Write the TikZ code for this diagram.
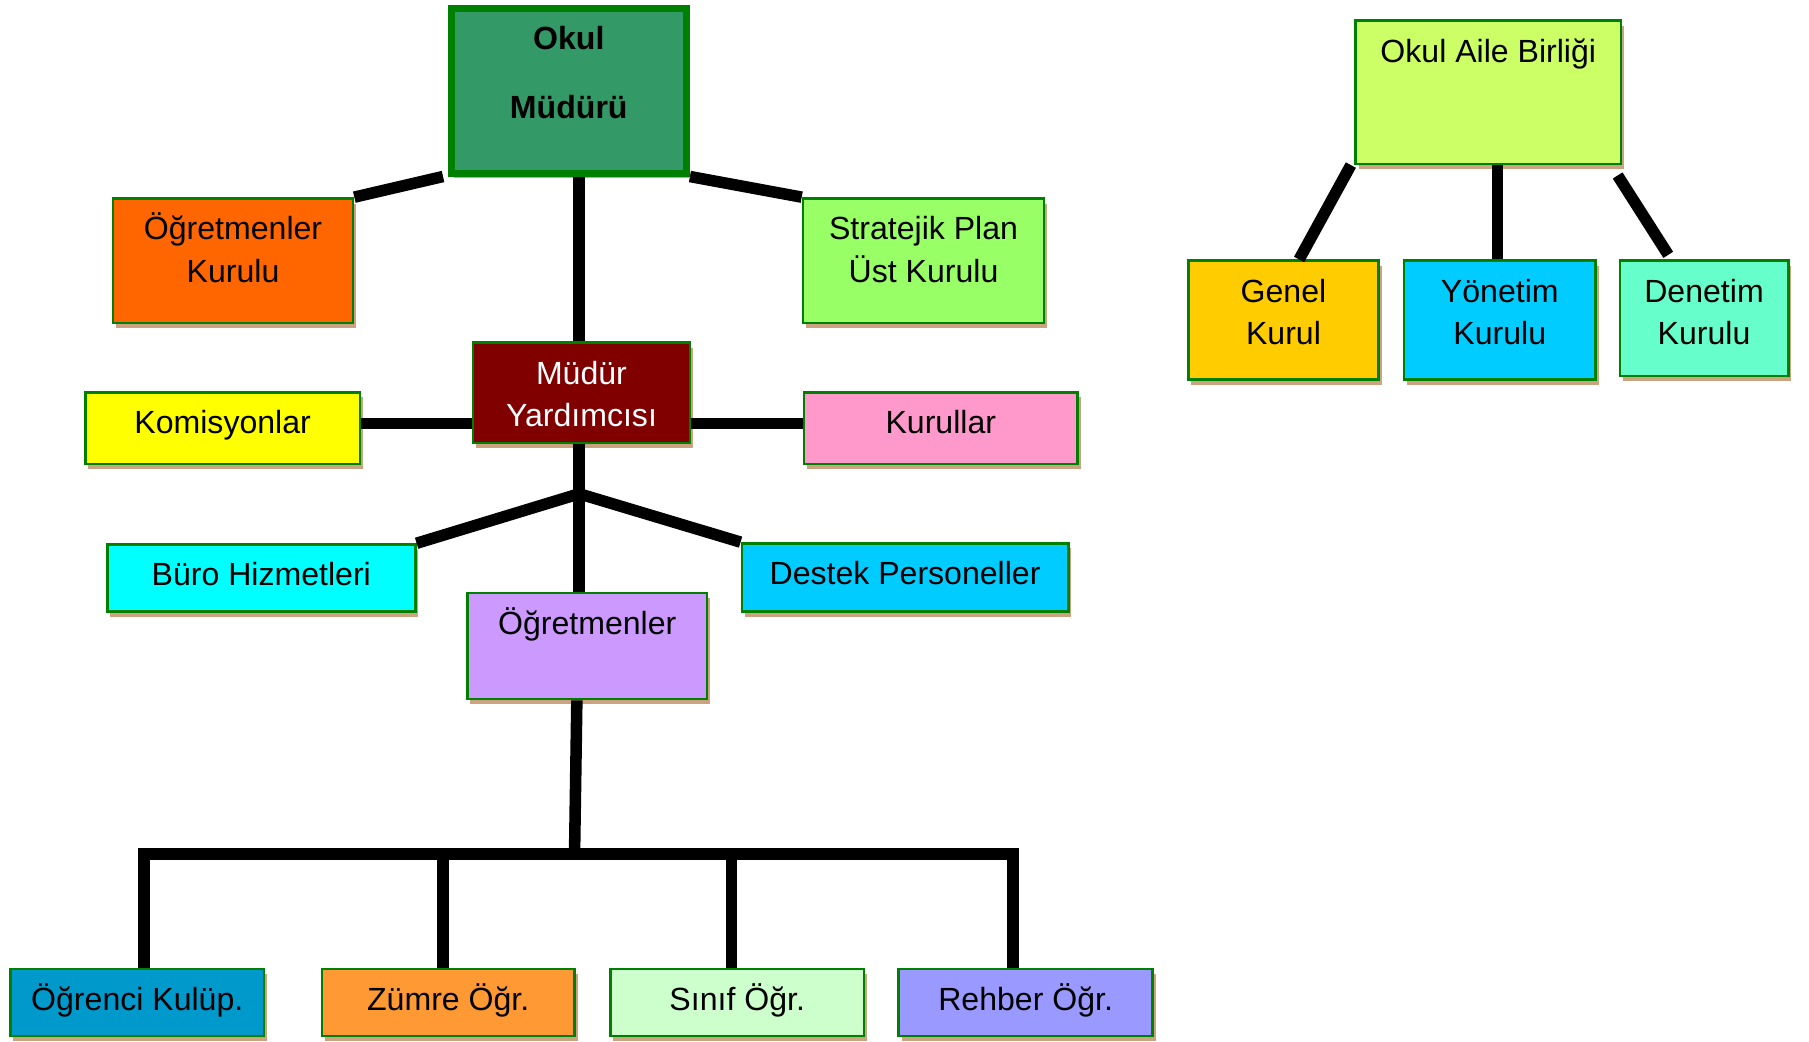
\documentclass[tikz,border=0pt]{standalone}
\usepackage{fontspec}
\setmainfont{Liberation Sans}
\usetikzlibrary{shadows}
\definecolor{bordergreen}{HTML}{008000}
\definecolor{shadowc}{RGB}{204,163,128}
\definecolor{omc}{HTML}{339966}
\definecolor{ogkc}{HTML}{FF6600}
\definecolor{spkc}{HTML}{99FF66}
\definecolor{myc}{HTML}{800000}
\definecolor{komc}{HTML}{FFFF00}
\definecolor{kurc}{HTML}{FF99CC}
\definecolor{buroc}{HTML}{00FFFF}
\definecolor{destekc}{HTML}{00CCFF}
\definecolor{ogrc}{HTML}{CC99FF}
\definecolor{kulupc}{HTML}{0099CC}
\definecolor{zumrec}{HTML}{FF9933}
\definecolor{sinifc}{HTML}{CCFFCC}
\definecolor{rehberc}{HTML}{9999FF}
\definecolor{oabc}{HTML}{CCFF66}
\definecolor{genelc}{HTML}{FFCC00}
\definecolor{yonc}{HTML}{00CCFF}
\definecolor{denc}{HTML}{66FFCC}
\newcommand\bt[3]{\parbox[c][#2][t]{#1}{\centering\vspace*{5pt}\strut #3}}
\begin{document}
\begin{tikzpicture}[x=0.5pt,y=-0.5pt,
  box/.style={draw=bordergreen, line width=1.1pt, inner sep=0pt,
    font=\fontsize{13.9}{18.5}\selectfont,
    drop shadow={shadow xshift=1.3pt, shadow yshift=-2.2pt, fill=shadowc, opacity=1}},
  conn/.style={line width=5pt, black}]
\useasboundingbox (0,0) rectangle (1568,903);

% nodes
\node[box, fill=omc, line width=3pt] (om) at (493,78.5)
  {\bt{102pt}{71.5pt}{\bfseries Okul\\[11.5pt]Müdürü}};
\node[box, fill=ogkc] (ogk) at (202,226) {\bt{104pt}{54pt}{Öğretmenler\\Kurulu}};
\node[box, fill=spkc] (spk) at (800.5,226) {\bt{104.5pt}{54pt}{Stratejik Plan\\Üst Kurulu}};
\node[box, fill=myc, text=white] (my) at (504,340.5) {\bt{94pt}{43.5pt}{Müdür\\Yardımcısı}};
\node[box, fill=komc] (kom) at (193,371) {\bt{119pt}{31pt}{Komisyonlar}};
\node[box, fill=kurc] (kur) at (815.5,371) {\bt{118.5pt}{31pt}{Kurullar}};
\node[box, fill=buroc] (buro) at (226.5,501) {\bt{133.5pt}{29pt}{Büro Hizmetleri}};
\node[box, fill=destekc] (destek) at (784.5,500.5) {\bt{141.5pt}{29.5pt}{Destek Personeller}};
\node[box, fill=ogrc] (ogr) at (509,560) {\bt{104pt}{46pt}{Öğretmenler}};
\node[box, fill=kulupc] (kulup) at (119,869) {\bt{110pt}{29pt}{Öğrenci Kulüp.}};
\node[box, fill=zumrec] (zumre) at (388.5,869) {\bt{109.5pt}{29pt}{Zümre Öğr.}};
\node[box, fill=sinifc] (sinif) at (639,869) {\bt{110pt}{29pt}{Sınıf Öğr.}};
\node[box, fill=rehberc] (rehber) at (889,869) {\bt{110pt}{29pt}{Rehber Öğr.}};
\node[box, fill=oabc] (oab) at (1290,80) {\bt{115pt}{62pt}{Okul Aile Birliği}};
\node[box, fill=genelc] (genel) at (1112.5,277.5) {\bt{82.5pt}{51.5pt}{Genel\\Kurul}};
\node[box, fill=yonc] (yon) at (1300,277.5) {\bt{83pt}{51.5pt}{Yönetim\\Kurulu}};
\node[box, fill=denc] (den) at (1477,276) {\bt{73pt}{50pt}{Denetim\\Kurulu}};

% junction points
\coordinate (J) at (502,428);
\coordinate (B) at (498,740);
\coordinate (v1) at (125,740);
\coordinate (v2) at (384,740);
\coordinate (v3) at (634,740);
\coordinate (v4) at (878,740);

% connectors
\draw[conn] ([xshift=-2pt]om.south west) -- (ogk.north east);
\draw[conn] (om.south east) -- (spk.north west);
\draw[conn] (J |- om.south) -- (J |- my.north);
\draw[conn] ([yshift=2pt]kom.east) -- ([yshift=2pt]kom.east -| my.west);
\draw[conn] ([yshift=2pt]kur.west) -- ([yshift=2pt]kur.west -| my.east);
\draw[conn] (J |- my.south) -- (J);
\draw[conn] (J) -- (buro.north east);
\draw[conn] (J) -- (destek.north west);
\draw[conn] (J) -- (J |- ogr.north);
\draw[conn] ([xshift=-4.5pt]ogr.south) -- (B);
\draw[conn] (v1 |- kulup.north) -- (v1) -- (v4) -- (v4 |- rehber.north);
\draw[conn] (v2) -- (v2 |- zumre.north);
\draw[conn] (v3) -- (v3 |- sinif.north);
\draw[conn] ([xshift=-1.5pt]oab.south west) -- ([xshift=6.75pt]genel.north);
\draw[conn] ([xshift=-1pt]yon.north |- oab.south) -- ([xshift=-1pt]yon.north);
\draw[conn] ([shift={(-2pt,-4.5pt)}]oab.south east) -- ([shift={(-15.5pt,2pt)}]den.north);
\end{tikzpicture}
\end{document}
